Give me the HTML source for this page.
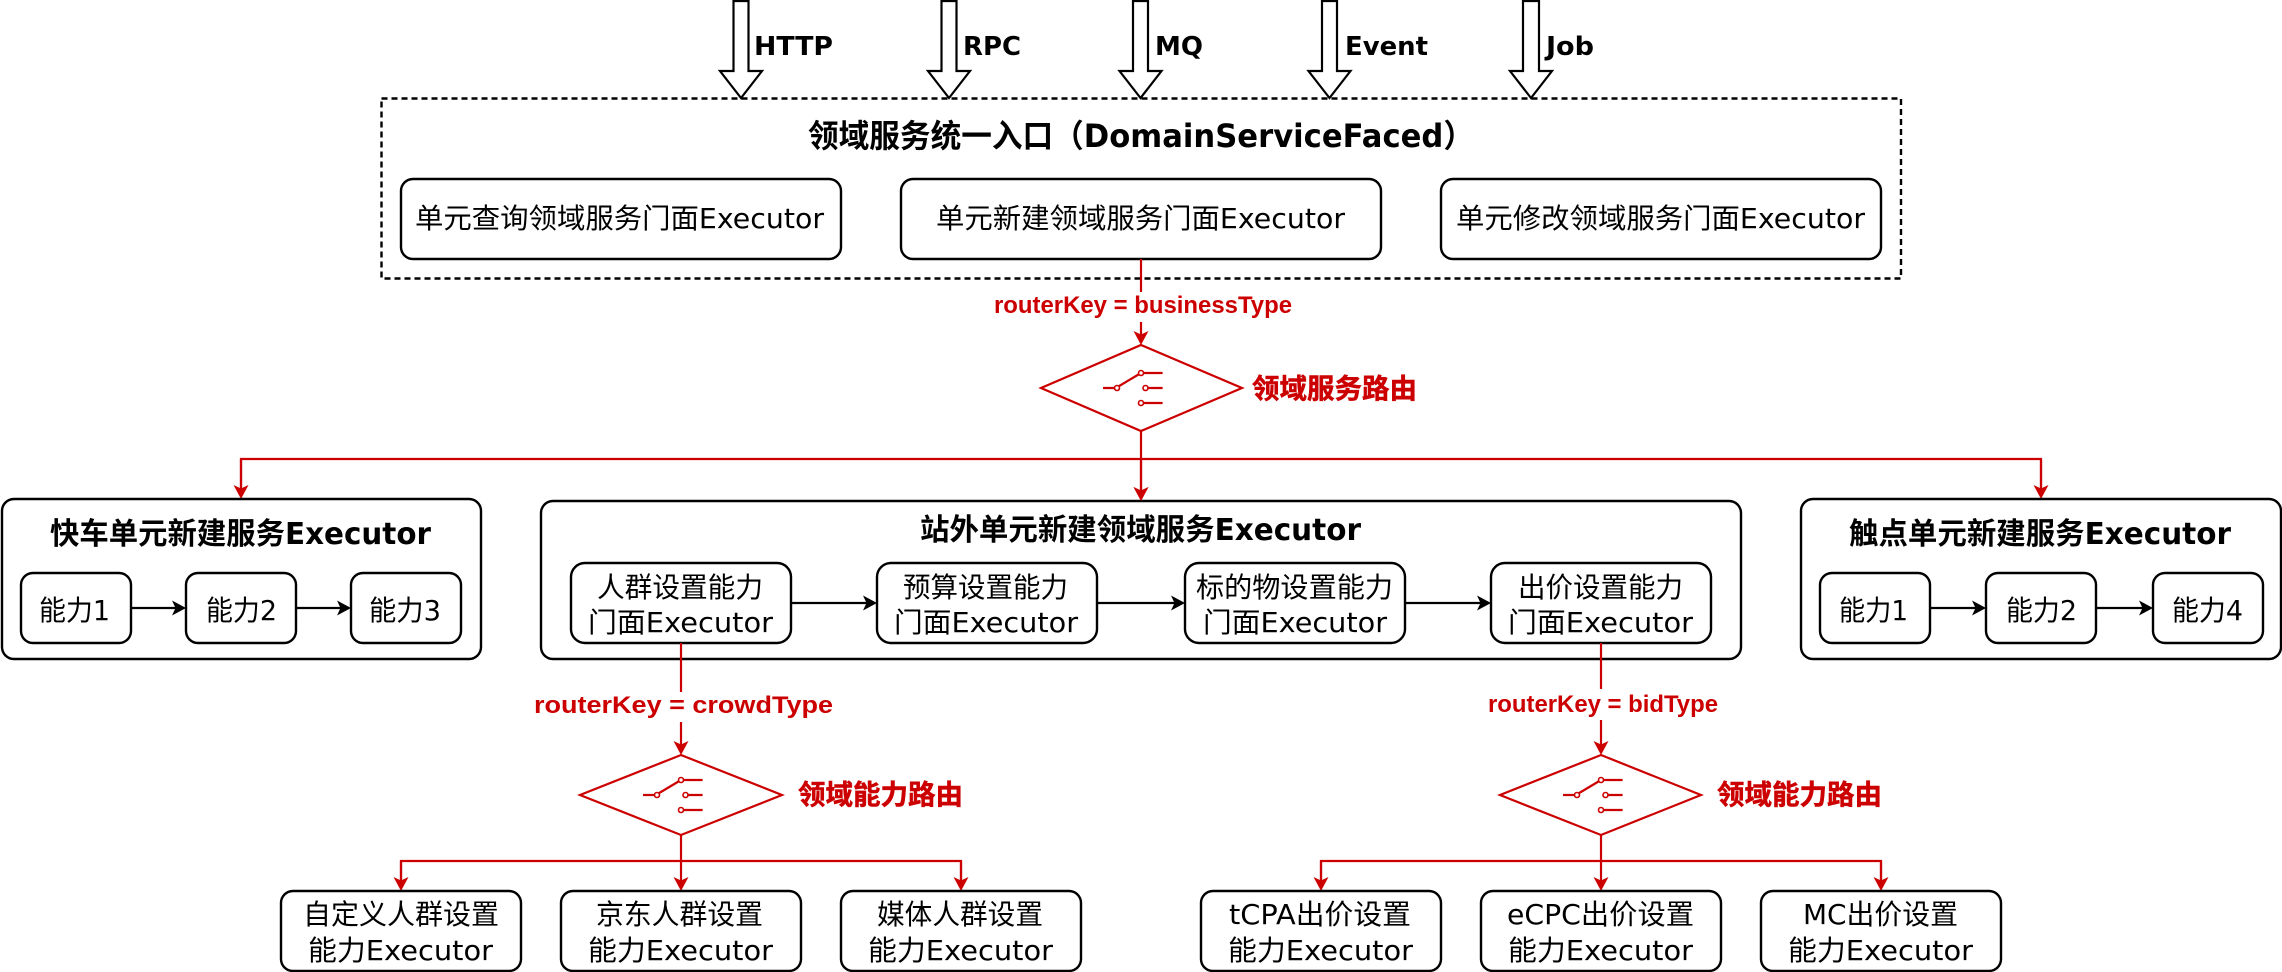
<!DOCTYPE html>
<html lang="zh">
<head>
<meta charset="utf-8">
<title>领域服务统一入口</title>
<style>
html,body{margin:0;padding:0;background:#fff;width:2282px;height:972px;overflow:hidden}
svg{display:block}
text{font-family:"DejaVu Sans","Noto Sans CJK SC",sans-serif;font-size:28px;fill:#000}
.b{font-weight:700;font-size:30px}
.h{font-weight:700;font-size:26px}
.t{font-weight:700;font-size:32px}
.r{font-family:"Liberation Sans","Noto Sans CJK SC",sans-serif;font-weight:700;font-size:24px;fill:#c00}
.c{font-family:"Noto Sans CJK SC",sans-serif;font-weight:700;font-size:27.5px;fill:#c00;stroke:#c00;stroke-width:.5}
rect{fill:#fff;stroke:#000;stroke-width:2.4}
.k{stroke:#000;stroke-width:2.2;fill:none}
.l{stroke:#c00;stroke-width:2.2;fill:none}
.ar{fill:#fff;stroke:#000;stroke-width:2.2}
.d{fill:#fff;stroke:#c00;stroke-width:2.2}
.o{fill:#fff;stroke:#c00;stroke-width:1.6}
</style>
</head>
<body>
<svg width="2282" height="972" viewBox="0 0 2282 972" xmlns="http://www.w3.org/2000/svg">
<defs>
<marker id="mr" viewBox="0 0 14 15" markerWidth="14" markerHeight="15" refX="10" refY="7.500" orient="auto" markerUnits="userSpaceOnUse"><path d="M14,7.500 L0,0 L3.500,7.500 L0,15 Z" fill="#c00"/></marker>
<marker id="mk" viewBox="0 0 14 15" markerWidth="14" markerHeight="15" refX="10" refY="7.500" orient="auto" markerUnits="userSpaceOnUse"><path d="M14,7.500 L0,0 L3.500,7.500 L0,15 Z" fill="#000"/></marker>
<g id="sw">
<path class="l" d="M-38,0H-24M-21.800,-2 L-2.500,-13.500M2.500,-15H21.600M7,0H21.600M2.500,15H21.600"/>
<circle class="o" cx="-24" cy="0" r="2.500"/><circle class="o" cx="0" cy="-15" r="2.500"/><circle class="o" cx="4.500" cy="0" r="2.500"/><circle class="o" cx="0" cy="15" r="2.500"/>
</g>
</defs>

<!-- top entry -->
<rect x="381.500" y="98.500" width="1519.500" height="180" style="stroke-dasharray:6 4"/>
<polygon class="ar" points="733.500,1 748.500,1 748.500,71 762,71 741,98 720,71 733.500,71"/>
<polygon class="ar" points="941.500,1 956.500,1 956.500,71 970,71 949,98 928,71 941.500,71"/>
<polygon class="ar" points="1133,1 1148,1 1148,71 1161.500,71 1140.500,98 1119.500,71 1133,71"/>
<polygon class="ar" points="1322,1 1337,1 1337,71 1350.500,71 1329.500,98 1308.500,71 1322,71"/>
<polygon class="ar" points="1523,1 1539,1 1539,71 1552,71 1531,98 1510,71 1523,71"/>
<text class="h" x="754" y="55" textLength="79" lengthAdjust="spacingAndGlyphs">HTTP</text>
<text class="h" x="963" y="55" textLength="58" lengthAdjust="spacingAndGlyphs">RPC</text>
<text class="h" x="1155" y="55" textLength="48" lengthAdjust="spacingAndGlyphs">MQ</text>
<text class="h" x="1345" y="55" textLength="83" lengthAdjust="spacingAndGlyphs">Event</text>
<text class="h" x="1546" y="55" textLength="48" lengthAdjust="spacingAndGlyphs">Job</text>
<text class="t" x="808" y="147" textLength="666" lengthAdjust="spacingAndGlyphs">领域服务统一入口（DomainServiceFaced）</text>
<rect x="401" y="179" width="440" height="80" rx="12"/>
<rect x="901" y="179" width="480" height="80" rx="12"/>
<rect x="1441" y="179" width="440" height="80" rx="12"/>
<text x="415" y="228" textLength="409" lengthAdjust="spacingAndGlyphs">单元查询领域服务门面Executor</text>
<text x="936" y="228" textLength="409" lengthAdjust="spacingAndGlyphs">单元新建领域服务门面Executor</text>
<text x="1456" y="228" textLength="409" lengthAdjust="spacingAndGlyphs">单元修改领域服务门面Executor</text>

<!-- service router -->
<path class="l" d="M1141,259V292"/>
<text class="r" x="994" y="313" textLength="298" lengthAdjust="spacingAndGlyphs">routerKey = businessType</text>
<path class="l" d="M1141,322V341" marker-end="url(#mr)"/>
<polygon class="d" points="1141,345 1242,388 1141,431 1041,388"/>
<use href="#sw" x="1141" y="388"/>
<text class="c" x="1252" y="398" textLength="165" lengthAdjust="spacingAndGlyphs">领域服务路由</text>
<path class="l" d="M1141,431V497" marker-end="url(#mr)"/>
<path class="l" d="M241,495V459H2041V495" />
<path class="l" d="M241,459V495" marker-end="url(#mr)"/>
<path class="l" d="M2041,459V495" marker-end="url(#mr)"/>

<!-- left group -->
<rect x="2" y="499" width="479" height="160" rx="12"/>
<text class="b" x="50" y="544" textLength="381" lengthAdjust="spacingAndGlyphs">快车单元新建服务Executor</text>
<rect x="21" y="573" width="110" height="70" rx="12"/>
<rect x="186" y="573" width="110" height="70" rx="12"/>
<rect x="351" y="573" width="110" height="70" rx="12"/>
<text x="39" y="620" textLength="71" lengthAdjust="spacingAndGlyphs">能力1</text>
<text x="206" y="620" textLength="71" lengthAdjust="spacingAndGlyphs">能力2</text>
<text x="369" y="620" textLength="72" lengthAdjust="spacingAndGlyphs">能力3</text>
<path class="k" d="M131,608H182" marker-end="url(#mk)"/>
<path class="k" d="M296,608H347" marker-end="url(#mk)"/>

<!-- center group -->
<rect x="541" y="501" width="1200" height="158" rx="12"/>
<path class="l" d="M1141,459V497" marker-end="url(#mr)"/>
<text class="b" x="920" y="540" textLength="441" lengthAdjust="spacingAndGlyphs">站外单元新建领域服务Executor</text>
<rect x="571" y="563" width="220" height="80" rx="14"/>
<rect x="877" y="563" width="220" height="80" rx="14"/>
<rect x="1185" y="563" width="220" height="80" rx="14"/>
<rect x="1491" y="563" width="220" height="80" rx="14"/>
<text x="597" y="597" textLength="166" lengthAdjust="spacingAndGlyphs">人群设置能力</text>
<text x="588" y="632" textLength="185" lengthAdjust="spacingAndGlyphs">门面Executor</text>
<text x="903" y="597" textLength="165" lengthAdjust="spacingAndGlyphs">预算设置能力</text>
<text x="894" y="632" textLength="184" lengthAdjust="spacingAndGlyphs">门面Executor</text>
<text x="1196" y="597" textLength="197" lengthAdjust="spacingAndGlyphs">标的物设置能力</text>
<text x="1203" y="632" textLength="184" lengthAdjust="spacingAndGlyphs">门面Executor</text>
<text x="1518" y="597" textLength="165" lengthAdjust="spacingAndGlyphs">出价设置能力</text>
<text x="1508" y="632" textLength="185" lengthAdjust="spacingAndGlyphs">门面Executor</text>
<path class="k" d="M791,603H873" marker-end="url(#mk)"/>
<path class="k" d="M1097,603H1181" marker-end="url(#mk)"/>
<path class="k" d="M1405,603H1487" marker-end="url(#mk)"/>

<!-- right group -->
<rect x="1801" y="499" width="480" height="160" rx="12"/>
<text class="b" x="1849" y="544" textLength="382" lengthAdjust="spacingAndGlyphs">触点单元新建服务Executor</text>
<rect x="1820" y="573" width="110" height="70" rx="12"/>
<rect x="1986" y="573" width="110" height="70" rx="12"/>
<rect x="2153" y="573" width="110" height="70" rx="12"/>
<text x="1839" y="620" textLength="69" lengthAdjust="spacingAndGlyphs">能力1</text>
<text x="2006" y="620" textLength="71" lengthAdjust="spacingAndGlyphs">能力2</text>
<text x="2172" y="620" textLength="71" lengthAdjust="spacingAndGlyphs">能力4</text>
<path class="k" d="M1930,608H1982" marker-end="url(#mk)"/>
<path class="k" d="M2096,608H2149" marker-end="url(#mk)"/>

<!-- crowd router -->
<path class="l" d="M681,643V692"/>
<text class="r" x="534" y="713" textLength="299" lengthAdjust="spacingAndGlyphs">routerKey = crowdType</text>
<path class="l" d="M681,722V751" marker-end="url(#mr)"/>
<polygon class="d" points="681,755 782,795 681,835 580,795"/>
<use href="#sw" x="681" y="795"/>
<text class="c" x="798" y="804" textLength="165" lengthAdjust="spacingAndGlyphs">领域能力路由</text>
<path class="l" d="M681,835V887" marker-end="url(#mr)"/>
<path class="l" d="M401,887V861H961V887"/>
<path class="l" d="M401,861V887" marker-end="url(#mr)"/>
<path class="l" d="M961,861V887" marker-end="url(#mr)"/>
<rect x="281" y="891" width="240" height="80" rx="12"/>
<rect x="561" y="891" width="240" height="80" rx="12"/>
<rect x="841" y="891" width="240" height="80" rx="12"/>
<text x="303" y="924" textLength="196" lengthAdjust="spacingAndGlyphs">自定义人群设置</text>
<text x="308" y="960" textLength="185" lengthAdjust="spacingAndGlyphs">能力Executor</text>
<text x="596" y="924" textLength="167" lengthAdjust="spacingAndGlyphs">京东人群设置</text>
<text x="588" y="960" textLength="185" lengthAdjust="spacingAndGlyphs">能力Executor</text>
<text x="877" y="924" textLength="166" lengthAdjust="spacingAndGlyphs">媒体人群设置</text>
<text x="868" y="960" textLength="185" lengthAdjust="spacingAndGlyphs">能力Executor</text>

<!-- bid router -->
<path class="l" d="M1601,643V689"/>
<text class="r" x="1488" y="712" textLength="230" lengthAdjust="spacingAndGlyphs">routerKey = bidType</text>
<path class="l" d="M1601,720V751" marker-end="url(#mr)"/>
<polygon class="d" points="1601,755 1701,795 1601,835 1500,795"/>
<use href="#sw" x="1601" y="795"/>
<text class="c" x="1717" y="804" textLength="165" lengthAdjust="spacingAndGlyphs">领域能力路由</text>
<path class="l" d="M1601,835V887" marker-end="url(#mr)"/>
<path class="l" d="M1321,887V861H1881V887"/>
<path class="l" d="M1321,861V887" marker-end="url(#mr)"/>
<path class="l" d="M1881,861V887" marker-end="url(#mr)"/>
<rect x="1201" y="891" width="240" height="80" rx="12"/>
<rect x="1481" y="891" width="240" height="80" rx="12"/>
<rect x="1761" y="891" width="240" height="80" rx="12"/>
<text x="1229" y="924" textLength="182" lengthAdjust="spacingAndGlyphs">tCPA出价设置</text>
<text x="1228" y="960" textLength="185" lengthAdjust="spacingAndGlyphs">能力Executor</text>
<text x="1507" y="924" textLength="187" lengthAdjust="spacingAndGlyphs">eCPC出价设置</text>
<text x="1508" y="960" textLength="185" lengthAdjust="spacingAndGlyphs">能力Executor</text>
<text x="1803" y="924" textLength="155" lengthAdjust="spacingAndGlyphs">MC出价设置</text>
<text x="1788" y="960" textLength="185" lengthAdjust="spacingAndGlyphs">能力Executor</text>
</svg>
</body>
</html>
